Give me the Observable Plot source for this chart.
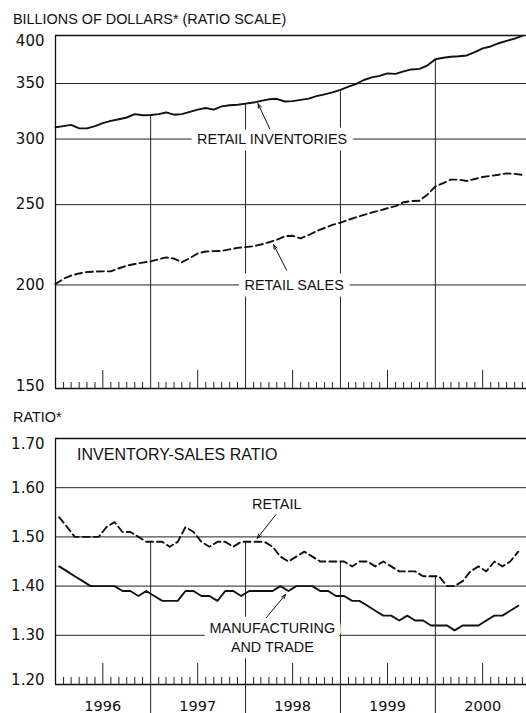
<!DOCTYPE html>
<html><head><meta charset="utf-8">
<script src="https://cdn.jsdelivr.net/npm/d3@7"></script>
<script src="https://cdn.jsdelivr.net/npm/@observablehq/plot@0.6"></script>
<style>
body{margin:0;background:#fff;}
#wrap{position:relative;width:526px;height:713px;overflow:hidden;background:#fff;font-family:"Liberation Sans",Arial,sans-serif;color:#111;}
.lbl{position:absolute;left:13px;font-size:14.4px;line-height:16px;white-space:nowrap;}
#topPanel,#botPanel{position:absolute;left:0;}
</style></head><body>
<div id="wrap">
<div class="lbl" style="top:11px">BILLIONS OF DOLLARS* (RATIO SCALE)</div>
<div id="topPanel" style="top:25px"></div>
<div class="lbl" style="top:409px">RATIO*</div>
<div id="botPanel" style="top:428px"></div>
</div>
<script>
// ---- data (monthly, Jan 1996 onward) ----
const startYear = 1996;
const inventories = [310,311,312,309,309,311,313.5,315.5,317,318.5,321.5,320.5,
  320.7,321.5,323,321,321.5,323.5,325.5,327,325.5,328.5,329.5,330,
  331,332,333.6,335,335.5,333,333.3,334.5,335.6,338,339.7,341.5,
  344,347,349.5,353.5,356,357.5,360,359.5,362,364,364.6,368,
  374.5,376,377,377.6,378.4,382,386,388,391.5,394,396.5,399.5];
const sales = [200.5,203.5,205.3,206.5,207.3,207.6,207.7,207.7,209.5,211,212,212.8,
  213.5,214.8,215.9,215.2,213,215.5,218.3,219.5,219.7,219.8,220.8,221.7,
  222.2,222.7,223.8,225.2,226.8,229,229.3,227.6,229.8,232.3,234.3,236.3,
  237.8,239.7,241.3,243,244.5,246,247.5,249,251.7,252.5,252.7,257,
  263,265.5,268,268,267,268.5,270,270.8,271.7,272.7,272.3,271.6];
const retailRatio = [1.54,1.52,1.50,1.50,1.50,1.50,1.52,1.53,1.51,1.51,1.50,1.49,
  1.49,1.49,1.48,1.49,1.52,1.51,1.49,1.48,1.49,1.49,1.48,1.49,
  1.49,1.49,1.49,1.48,1.46,1.45,1.46,1.47,1.46,1.45,1.45,1.45,
  1.45,1.44,1.45,1.45,1.44,1.45,1.44,1.43,1.43,1.43,1.42,1.42,
  1.42,1.40,1.40,1.41,1.43,1.44,1.43,1.45,1.44,1.45,1.47];
const mfgRatio = [1.44,1.43,1.42,1.41,1.40,1.40,1.40,1.40,1.39,1.39,1.38,1.39,
  1.38,1.37,1.37,1.37,1.39,1.39,1.38,1.38,1.37,1.39,1.39,1.38,
  1.39,1.39,1.39,1.39,1.40,1.39,1.40,1.40,1.40,1.39,1.39,1.38,
  1.38,1.37,1.37,1.36,1.35,1.34,1.34,1.33,1.34,1.33,1.33,1.32,
  1.32,1.32,1.31,1.32,1.32,1.32,1.33,1.34,1.34,1.35,1.36];
const dollarTicks = [150,200,250,300,350,400];
const ratioTicks = [1.20,1.30,1.40,1.50,1.60,1.70];
const yearLabels = ["1996","1997","1998","1999","2000"];

(function () {
// ---- helpers ----
const monthStart = i => new Date(startYear, i, 1);
const monthMid = i => new Date(startYear, i, 15);
const x0 = new Date(startYear, 0, 1);
const x2001 = new Date(2001, 0, 1);
const xEnd = new Date(+x0 + (x2001 - x0) * (471 / 475));
const xScale = {type: "time", domain: [x0, xEnd], label: null, axis: null};

const invData = inventories.map((v, i) => ({date: monthStart(i), value: v}));
const salesData = sales.map((v, i) => ({date: monthStart(i), value: v}));
const retailData = retailRatio.map((v, i) => ({date: monthMid(i), value: v}));
const mfgData = mfgRatio.map((v, i) => ({date: monthMid(i), value: v}));

const boundaryYears = [1997, 1998, 1999, 2000];
const topYearLines = boundaryYears.map(y => ({date: new Date(y, 0, 1), top: inventories[(y - startYear) * 12]}));
const botYearLines = boundaryYears.map(y => {
  const k = (y - startYear) * 12;
  return {date: new Date(y, 0, 1), top: (retailRatio[k - 1] + retailRatio[k]) / 2};
});
const minorTicks = d3.range(1, 60).filter(i => i % 12 !== 0 && i % 12 !== 6).map(monthStart);
const midTicks = d3.range(5).map(k => monthStart(k * 12 + 6));

const labelFont = "Liberation Sans, Arial, sans-serif";
const numFont = "DejaVu Sans, sans-serif";

const topNotes = [
  {text: "RETAIL INVENTORIES", date: new Date(1998, 3, 13), value: 300},
  {text: "RETAIL SALES", date: new Date(1998, 6, 7), value: 200}
];
const topArrows = [
  {d1: new Date(1998, 3, 4), v1: 308.6, d2: new Date(1998, 1, 18), v2: 331},
  {d1: new Date(1998, 5, 8), v1: 208.4, d2: new Date(1998, 3, 19), v2: 223.6}
];
const panelTitle = [{text: "INVENTORY-SALES RATIO", date: new Date(1996, 2, 24), value: 1.6675}];
const botNotes = [
  {text: "RETAIL", date: new Date(1998, 4, 1), value: 1.569},
  {text: "MANUFACTURING\nAND TRADE", date: new Date(1998, 3, 14), value: 1.298}
];
const botArrows = [
  {d1: new Date(1998, 3, 28), v1: 1.5455, d2: new Date(1998, 1, 15), v2: 1.497},
  {d1: new Date(1998, 2, 22), v1: 1.336, d2: new Date(1998, 5, 4), v2: 1.383}
];

const common = {fontFamily: numFont, fontSize: "15px", background: "transparent", color: "#111"};
const tickOpts = {tickSize: 0, tickPadding: 11, fontSize: 15, fontFamily: numFont};
const halo = {fontSize: 14.4, fontFamily: labelFont, fill: "#111", stroke: "white", strokeWidth: 13, paintOrder: "stroke"};

const topChart = Plot.plot({
  width: 526, height: 370, marginTop: 10, marginBottom: 7, marginLeft: 55, marginRight: 0,
  style: common,
  x: xScale,
  y: {type: "log", domain: [150, 400], label: null},
  marks: [
    Plot.ruleY(dollarTicks.slice(1, 5), {stroke: "#222", strokeWidth: 1}),
    Plot.ruleY([150, 400], {stroke: "#111", strokeWidth: 1.3}),
    Plot.ruleX([x0], {stroke: "#111", strokeWidth: 1.3}),
    Plot.ruleX(topYearLines, {x: "date", y1: "top", y2: 150, stroke: "#222", strokeWidth: 1}),
    Plot.ruleX(minorTicks, {x: d => d, y1: 150, y2: 150, insetTop: -6, stroke: "#222"}),
    Plot.ruleX(midTicks, {x: d => d, y1: 150, y2: 150, insetTop: -18, stroke: "#222"}),
    Plot.axisY(dollarTicks.filter(v => v !== 400 && v !== 150), tickOpts),
    Plot.axisY([400], {...tickOpts, dy: 6}),
    Plot.axisY([150], {...tickOpts, dy: -2}),
    Plot.text(topNotes, {x: "date", y: "value", text: "text", ...halo}),
    Plot.line(invData, {x: "date", y: "value", stroke: "#111", strokeWidth: 1.9}),
    Plot.line(salesData, {x: "date", y: "value", stroke: "#111", strokeWidth: 1.9, strokeDasharray: "7,4"}),
    Plot.arrow(topArrows, {x1: "d1", y1: "v1", x2: "d2", y2: "v2", stroke: "#111", strokeWidth: 1, headLength: 7, headAngle: 40})
  ]
});
document.getElementById("topPanel").append(topChart);

const fmt = d => d.toFixed(2);
const botChart = Plot.plot({
  width: 526, height: 285, marginTop: 10, marginBottom: 29, marginLeft: 55, marginRight: 0,
  style: common,
  x: xScale,
  y: {domain: [1.2, 1.7], label: null},
  marks: [
    Plot.ruleY(ratioTicks.slice(1, 5), {stroke: "#222", strokeWidth: 1}),
    Plot.ruleY([1.2, 1.7], {stroke: "#111", strokeWidth: 1.3}),
    Plot.ruleX([x0], {stroke: "#111", strokeWidth: 1.3}),
    Plot.ruleX(botYearLines, {x: "date", y1: "top", y2: 1.2, insetBottom: -30, stroke: "#222", strokeWidth: 1}),
    Plot.ruleX(minorTicks, {x: d => d, y1: 1.2, y2: 1.2, insetTop: -7, stroke: "#222"}),
    Plot.ruleX(midTicks, {x: d => d, y1: 1.2, y2: 1.2, insetTop: -21, stroke: "#222"}),
    Plot.axisY(ratioTicks.filter(v => v !== 1.7 && v !== 1.2), {...tickOpts, tickFormat: fmt}),
    Plot.axisY([1.7], {...tickOpts, dy: 6, tickFormat: fmt}),
    Plot.axisY([1.2], {...tickOpts, dy: -4, tickFormat: fmt}),
    Plot.axisX(midTicks, {tickSize: 0, tickPadding: 16, fontSize: 14.5, fontFamily: numFont,
      tickFormat: d => yearLabels[d.getFullYear() - startYear]}),
    Plot.text(panelTitle, {x: "date", y: "value", text: "text", textAnchor: "start", fontSize: 16, fontFamily: labelFont, fill: "#111"}),
    Plot.text(botNotes, {x: "date", y: "value", text: "text", lineHeight: 1.3, ...halo}),
    Plot.line(mfgData, {x: "date", y: "value", stroke: "#111", strokeWidth: 1.9}),
    Plot.line(retailData, {x: "date", y: "value", stroke: "#111", strokeWidth: 1.9, strokeDasharray: "7,4"}),
    Plot.arrow(botArrows, {x1: "d1", y1: "v1", x2: "d2", y2: "v2", stroke: "#111", strokeWidth: 1, headLength: 7, headAngle: 40})
  ]
});
document.getElementById("botPanel").append(botChart);
})();
</script>
</body></html>
